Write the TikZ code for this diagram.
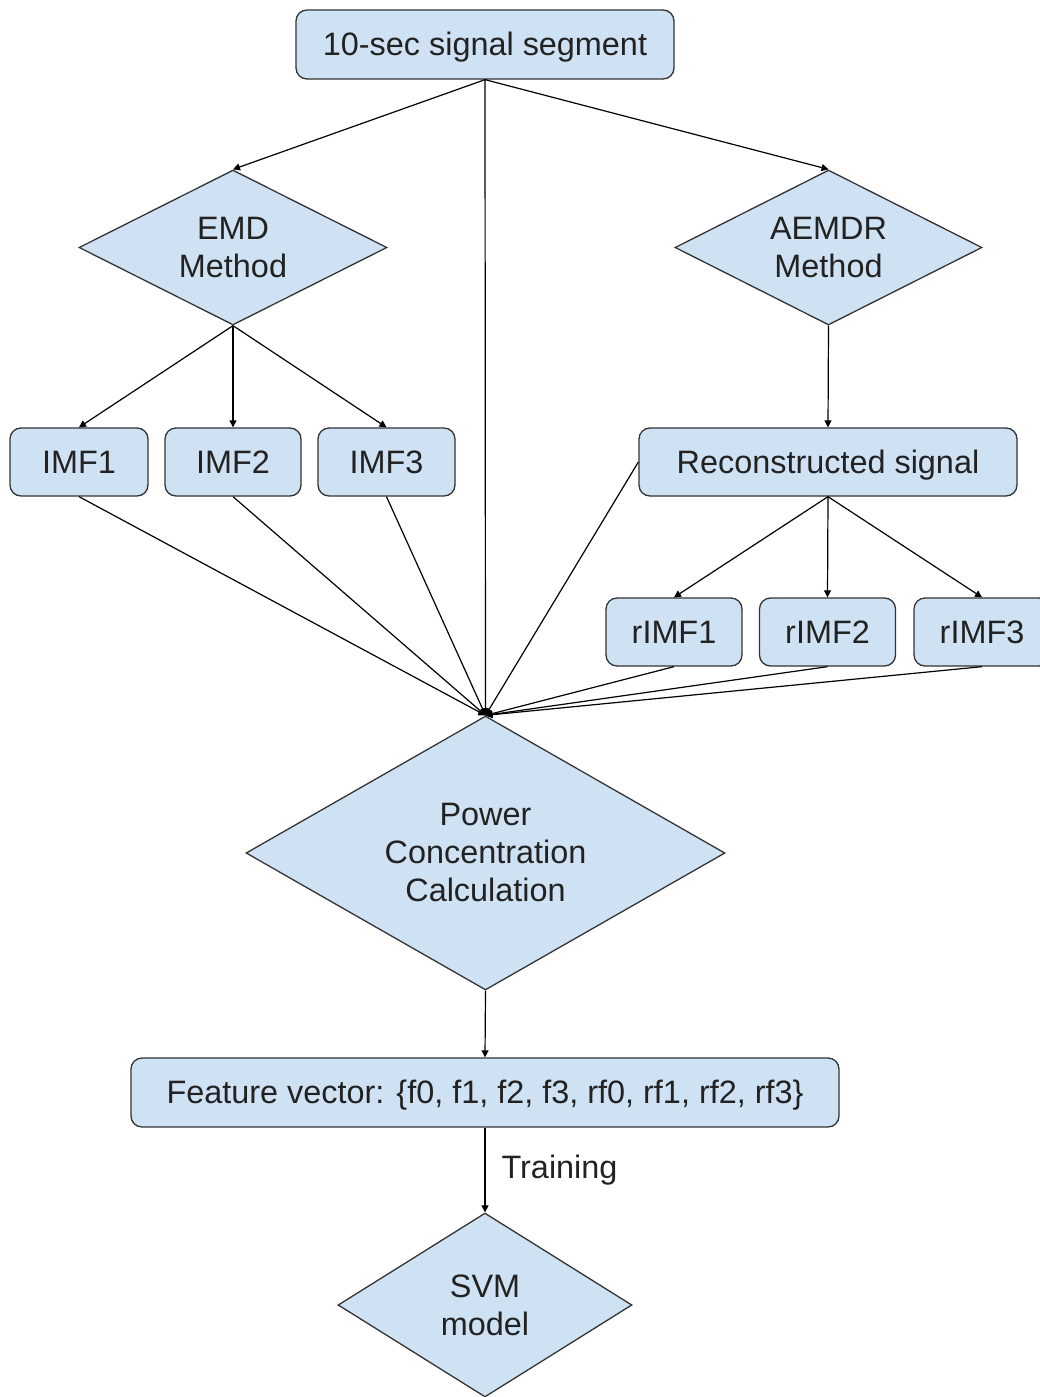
\documentclass[tikz,border=0pt]{standalone}
\usepackage{fontspec}
\setmainfont{Liberation Sans}
\usetikzlibrary{shapes.geometric,arrows.meta}
\definecolor{boxfill}{HTML}{CFE2F3}
\definecolor{edgegray}{HTML}{333333}
\definecolor{textgray}{HTML}{222222}

\begin{document}
\begin{tikzpicture}[x=1pt,y=-1pt,
  every node/.style={font=\fontsize{32.4}{38}\selectfont, text=textgray},
  box/.style={draw=edgegray, fill=boxfill, rounded corners=11pt, line width=1.3pt,
              minimum height=69pt, inner sep=0pt, text height=22pt, text depth=0pt},
  choice/.style={diamond, draw=edgegray, fill=boxfill, line width=1.3pt,
                 inner sep=0pt, align=center, shape aspect=2},
  link/.style={draw=black, line width=1.2pt, -{Triangle[length=7pt,width=7pt]}},
]
\useasboundingbox (0,0) rectangle (1040,1397);

% source segment
\node[box, minimum width=378pt] (seg) at (485,44.5) {10-sec signal segment};

% decomposition methods
\node[choice, minimum width=308pt, minimum height=155pt] (emd) at (233,247.5) {EMD\\Method};
\node[choice, minimum width=307pt, minimum height=155pt] (aemdr) at (828.5,247.5) {AEMDR\\Method};

% EMD outputs
\node[box, minimum width=138pt, minimum height=68pt] (imf1) at (79,462) {IMF1};
\node[box, minimum width=136pt, minimum height=68pt] (imf2) at (233,462) {IMF2};
\node[box, minimum width=137pt, minimum height=68pt] (imf3) at (386.5,462) {IMF3};

% AEMDR outputs
\node[box, minimum width=378pt, minimum height=68pt] (recon) at (828,462) {Reconstructed signal};
\node[box, minimum width=136pt, minimum height=68pt] (rimf1) at (674,632) {rIMF1};
\node[box, minimum width=136pt, minimum height=68pt] (rimf2) at (827.5,632) {rIMF2};
\node[box, minimum width=136pt, minimum height=68pt] (rimf3) at (982,632) {rIMF3};

% feature computation and classifier
\node[choice, shape aspect=1.75, minimum width=479pt, minimum height=274pt] (pcc) at (485.5,853)
  {Power\\Concentration\\Calculation};
\node[box, minimum width=708pt] (feat) at (485,1092.5)
  {Feature vector: \{f0, f1, f2, f3, rf0, rf1, rf2, rf3\}};
\node[choice, shape aspect=1.6, minimum width=294pt, minimum height=184pt] (svm) at (485,1305) {SVM\\model};

% connectors
\draw[link] (seg.south) -- (emd.north);
\draw[link] (seg.south) -- (aemdr.north);
\draw[link] (seg.south) -- (pcc.north);

\draw[link] (emd.south) -- (imf1.north);
\draw[link] (emd.south) -- (imf2.north);
\draw[link] (emd.south) -- (imf3.north);

\draw[link] (aemdr.south) -- (recon.north);
\draw[link] (recon.south) -- (rimf1.north);
\draw[link] (recon.south) -- (rimf2.north);
\draw[link] (recon.south) -- (rimf3.north);

\draw[link] (imf1.south) -- (pcc.north);
\draw[link] (imf2.south) -- (pcc.north);
\draw[link] (imf3.south) -- (pcc.north);
\draw[link] (recon.west) -- (pcc.north);
\draw[link] (rimf1.south) -- (pcc.north);
\draw[link] (rimf2.south) -- (pcc.north);
\draw[link] (rimf3.south) -- (pcc.north);

\draw[link] (pcc.south) -- (feat.north);
\draw[link] (feat.south) -- node[anchor=west, inner sep=0pt, xshift=16pt] {Training} (svm.north);
\end{tikzpicture}
\end{document}
